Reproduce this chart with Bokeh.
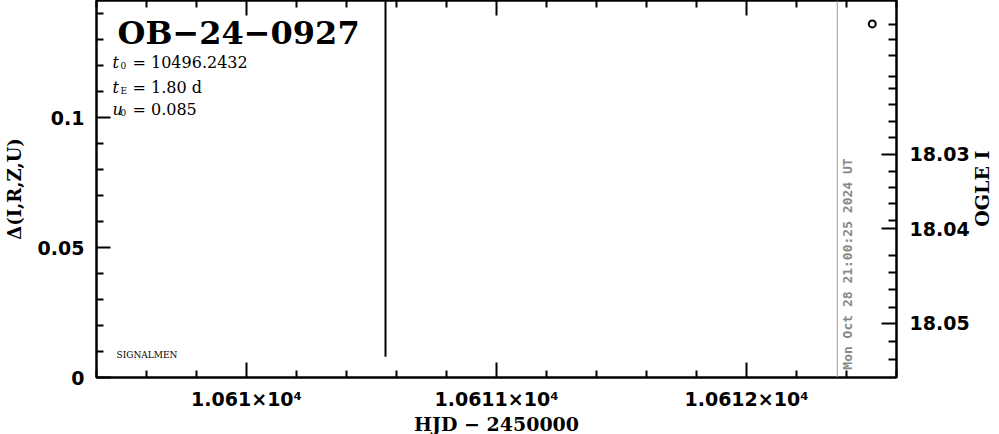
import numpy as np
from math import pi
from bokeh.plotting import figure
from bokeh.models import Range1d, LinearAxis, FixedTicker, Span, Label, ColumnDataSource
from bokeh.embed import file_html
from bokeh.resources import INLINE

# ---------------- data ----------------
event_name = "OB−24−0927"
t0_value = "10496.2432"
tE_value = "1.80 d"
u0_value = "0.085"
survey_tag = "SIGNALMEN"
now_text = "Mon Oct 28 21:00:25 2024 UT"
now_hjd = 10612.363

# survey point with large error bar (Δ flux)
hjd_a = [10610.556]
delta_a = [0.121]
err_a = [0.113]

# OGLE point
hjd_o = [10612.503]
delta_o = [0.136]

x_major = [10610, 10611, 10612]
x_major_labels = ["1.061×10⁴", "1.0611×10⁴", "1.0612×10⁴"]
x_minor = [10609.4, 10609.6, 10609.8, 10610.2, 10610.4, 10610.6, 10610.8,
           10611.2, 10611.4, 10611.6, 10611.8, 10612.2, 10612.4, 10612.6]

y_major = [0, 0.05, 0.1]
y_major_labels = ["0", "0.05", "0.1"]
y_minor = [0.01, 0.02, 0.03, 0.04, 0.06, 0.07, 0.08, 0.09, 0.11, 0.12, 0.13, 0.14]

ogle_labels = ["18.03", "18.04", "18.05"]
ogle_major_at = [0.0858, 0.0572, 0.0209]
ogle_minor_at = [0.1358, 0.13, 0.1238, 0.1158, 0.1112, 0.105, 0.0985, 0.0923,
                 0.0792, 0.0731, 0.0669, 0.0604, 0.0469, 0.0404, 0.0338, 0.0269,
                 0.0138, 0.0069]
ogle_title = "OGLE I"
ogle_title_at = 0.058

# ---------------- figure ----------------
p = figure(frame_width=800, frame_height=377,
           x_range=Range1d(10609.4, 10612.6), y_range=Range1d(0, 0.145),
           output_backend="svg", toolbar_location=None,
           min_border_left=96, min_border_right=102, min_border_top=0, min_border_bottom=56)
p.xgrid.visible = False
p.ygrid.visible = False
p.outline_line_color = "black"
p.outline_line_width = 2
p.background_fill_color = "white"
p.border_fill_color = "white"

def style_axis(ax, major_len=15, minor_len=7):
    ax.major_tick_in = major_len
    ax.major_tick_out = 0
    ax.minor_tick_in = minor_len
    ax.minor_tick_out = 0
    ax.axis_line_width = 2
    ax.major_tick_line_width = 2
    ax.minor_tick_line_width = 2
    ax.axis_line_color = "black"
    ax.major_tick_line_color = "black"
    ax.minor_tick_line_color = "black"
    ax.major_label_text_color = "black"
    ax.major_label_text_font = "DejaVu Sans"
    ax.major_label_text_font_style = "bold"
    ax.axis_label_text_font = "DejaVu Serif"
    ax.axis_label_text_font_style = "bold"
    ax.axis_label_text_color = "black"

# bottom axis
xa = p.xaxis[0]
xa.ticker = FixedTicker(ticks=x_major, minor_ticks=x_minor)
xa.major_label_overrides = dict(zip(x_major, x_major_labels))
style_axis(xa, 15, 7)
xa.major_label_text_font_size = "19px"
xa.major_label_standoff = 10
xa.axis_label = "HJD − 2450000"
xa.axis_label_text_font_size = "19px"
xa.axis_label_standoff = 0

# top axis (ticks only)
ta = LinearAxis(ticker=FixedTicker(ticks=x_major, minor_ticks=x_minor),
                major_label_text_font_size="0px", major_label_standoff=0)
ta.major_label_overrides = {k: "" for k in x_major}
style_axis(ta, 15, 7)
ta.major_label_text_font_size = "0px"
p.add_layout(ta, "above")

# left axis
ya = p.yaxis[0]
ya.ticker = FixedTicker(ticks=y_major, minor_ticks=y_minor)
ya.major_label_overrides = dict(zip(y_major, y_major_labels))
style_axis(ya, 14, 7)
ya.major_label_text_font_size = "19px"
ya.major_label_standoff = 12
ya.axis_label = "Δ(I,R,Z,U)"
ya.axis_label_text_font_size = "18px"
ya.axis_label_standoff = 10

# right axis (OGLE I magnitudes)
ra = LinearAxis(ticker=FixedTicker(ticks=ogle_major_at, minor_ticks=ogle_minor_at))
ra.major_label_overrides = dict(zip(ogle_major_at, ogle_labels))
style_axis(ra, 15, 8)
ra.major_label_text_font_size = "19px"
ra.major_label_standoff = 13
p.add_layout(ra, "right")

# right-hand title "OGLE I", drawn as a rotated tick label of a bare axis
rt = LinearAxis(ticker=FixedTicker(ticks=[ogle_title_at], minor_ticks=[]),
                major_label_overrides={ogle_title_at: ogle_title},
                major_label_orientation=pi / 2,
                axis_line_color=None, major_tick_line_color=None, minor_tick_line_color=None,
                major_tick_in=0, major_tick_out=0, minor_tick_in=0, minor_tick_out=0,
                major_label_standoff=10,
                major_label_text_font="DejaVu Serif", major_label_text_font_style="bold",
                major_label_text_font_size="19px", major_label_text_color="black")
p.add_layout(rt, "right")

# ---------------- data marks ----------------
src_a = ColumnDataSource(dict(x=hjd_a, lo=[d - e for d, e in zip(delta_a, err_a)],
                              hi=[d + e for d, e in zip(delta_a, err_a)], y=delta_a))
p.segment(x0="x", y0="lo", x1="x", y1="hi", source=src_a, line_color="black", line_width=2)

src_o = ColumnDataSource(dict(x=hjd_o, y=delta_o))
p.scatter(x="x", y="y", source=src_o, marker="circle", size=7,
          fill_color="white", line_color="black", line_width=2)

# current time marker
p.add_layout(Span(location=now_hjd, dimension="height", line_color="#999999", line_width=1))
p.add_layout(Label(x=now_hjd, y=0.003, x_offset=3, text=now_text, angle=pi / 2,
                   text_align="left", text_baseline="top", text_color="#888888",
                   text_font="DejaVu Sans Mono", text_font_style="bold", text_font_size="13px"))

# ---------------- annotations ----------------
def lab(x, y, text, size, style="normal", font="DejaVu Serif", **kw):
    p.add_layout(Label(x=x, y=y, x_units="screen", y_units="screen", text=text,
                       text_font=font, text_font_style=style, text_font_size=size,
                       text_color="black", text_align="left", text_baseline="alphabetic", **kw))

lab(21, 345, event_name, "32px", "bold")
lab(16, 315, "t", "16px", "italic")
lab(24, 312, "0", "9px")
lab(36, 315, "= " + t0_value, "16px")
lab(16, 290, "t", "16px", "italic")
lab(24, 287, "E", "9px")
lab(36, 290, "= " + tE_value, "16px")
lab(16, 268, "u", "16px", "italic")
lab(24, 265, "0", "9px")
lab(36, 268, "= " + u0_value, "16px")
lab(20, 23, survey_tag, "9px")

open("out.html", "w").write(file_html(p, INLINE))
